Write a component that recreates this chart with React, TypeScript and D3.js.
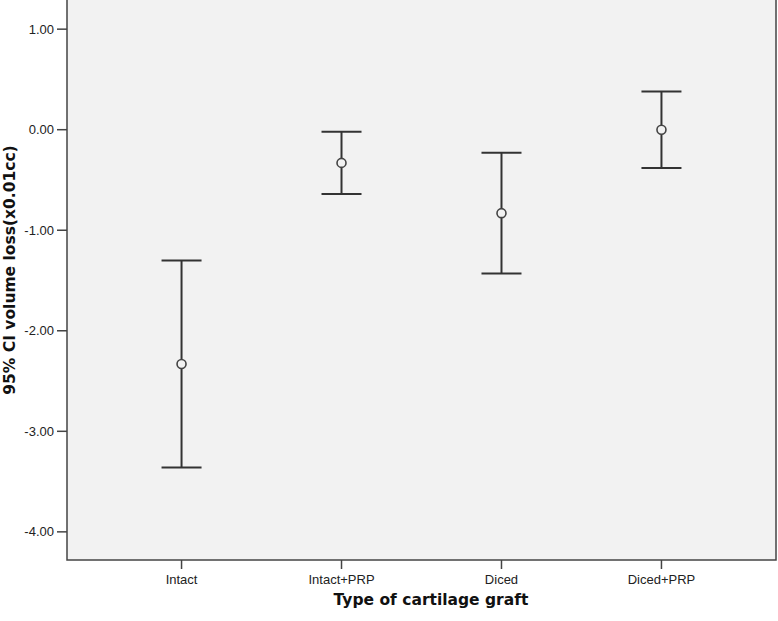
import React from "react";
import * as d3 from "d3";

const categories = ["Intact", "Intact+PRP", "Diced", "Diced+PRP"];
const means = [-2.33, -0.33, -0.83, 0.0];
const lowerCI = [-3.36, -0.64, -1.43, -0.38];
const upperCI = [-1.3, -0.02, -0.23, 0.38];
const yTicks = [1, 0, -1, -2, -3, -4];

const W = 778;
const H = 621;
const plot = { left: 67, right: 776, top: -1, bottom: 560 };

function App() {
  const x = d3
    .scalePoint<string>()
    .domain(categories)
    .range([plot.left, plot.right])
    .padding(0.716);

  const y = d3.scaleLinear().domain([-4.28, 1.3]).range([plot.bottom, plot.top]);

  const capHalf = 20;
  const axisColor = "#444";
  const barColor = "#333";

  return (
    <div style={{ position: "absolute", left: 0, top: 0 }}>
      <svg width={W} height={H} style={{ display: "block", background: "#fff" }}>
        {/* plot background */}
        <rect
          x={plot.left}
          y={plot.top}
          width={plot.right - plot.left}
          height={plot.bottom - plot.top}
          fill="#f2f2f2"
          stroke={axisColor}
          strokeWidth={1.5}
        />

        {/* y axis ticks */}
        {yTicks.map((t) => (
          <g key={t} transform={`translate(0,${y(t)})`}>
            <line x1={plot.left - 10} x2={plot.left} stroke={axisColor} strokeWidth={1.5} />
            <text
              x={plot.left - 13}
              dy="0.35em"
              textAnchor="end"
              fontFamily="'Liberation Sans', Arial, sans-serif"
              fontSize={13}
              fill="#222"
            >
              {t.toFixed(2)}
            </text>
          </g>
        ))}

        {/* x axis ticks */}
        {categories.map((c) => (
          <g key={c} transform={`translate(${x(c)},0)`}>
            <line y1={plot.bottom} y2={plot.bottom + 9} stroke={axisColor} strokeWidth={1.5} />
            <text
              y={584}
              textAnchor="middle"
              fontFamily="'Liberation Sans', Arial, sans-serif"
              fontSize={13}
              fill="#222"
            >
              {c}
            </text>
          </g>
        ))}

        {/* error bars */}
        {categories.map((c, i) => {
          const cx = x(c) as number;
          return (
            <g key={c} stroke={barColor} strokeWidth={2} fill="none">
              <line x1={cx} x2={cx} y1={y(upperCI[i])} y2={y(lowerCI[i])} />
              <line x1={cx - capHalf} x2={cx + capHalf} y1={y(upperCI[i])} y2={y(upperCI[i])} />
              <line x1={cx - capHalf} x2={cx + capHalf} y1={y(lowerCI[i])} y2={y(lowerCI[i])} />
              <circle cx={cx} cy={y(means[i])} r={4.5} fill="#f2f2f2" stroke="#444" strokeWidth={1.6} />
            </g>
          );
        })}

        {/* axis titles */}
        <text
          x={431}
          y={605}
          textAnchor="middle"
          fontFamily="'DejaVu Sans', Verdana, sans-serif"
          fontWeight="bold"
          fontSize={15.5}
          fill="#111"
        >
          Type of cartilage graft
        </text>
        <text
          transform="translate(15,270) rotate(-90)"
          textAnchor="middle"
          fontFamily="'DejaVu Sans', Verdana, sans-serif"
          fontWeight="bold"
          fontSize={15.5}
          fill="#111"
        >
          95% CI volume loss(x0.01cc)
        </text>
      </svg>
    </div>
  );
}

export default App;
